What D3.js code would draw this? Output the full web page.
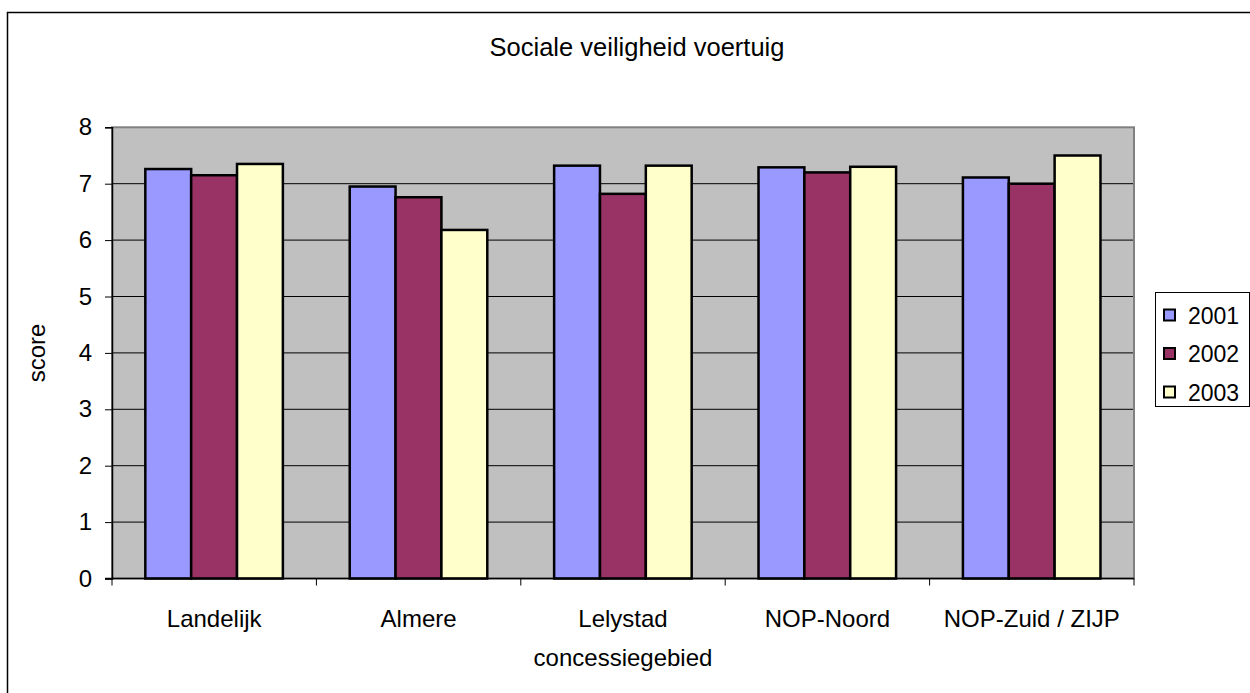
<!DOCTYPE html>
<html><head><meta charset="utf-8">
<script src="https://cdn.jsdelivr.net/npm/d3@7/dist/d3.min.js"></script>
<style>body{margin:0;background:#fff;} svg{display:block;font-family:"Liberation Sans",Arial,sans-serif;}</style>
</head><body>
<script>
const categories = ["Landelijk","Almere","Lelystad","NOP-Noord","NOP-Zuid / ZIJP"];
const series = ["2001","2002","2003"];
const values2001 = [7.26, 6.95, 7.32, 7.29, 7.11];
const values2002 = [7.15, 6.76, 6.82, 7.20, 7.00];
const values2003 = [7.35, 6.18, 7.32, 7.30, 7.50];
const yTicks = [0,1,2,3,4,5,6,7,8];
const colors = ["#9999FF","#993366","#FFFFCC"];
const seriesValues = [values2001, values2002, values2003];

const W = 1250, H = 693;
const FS = 24;
const svg = d3.select("body").append("svg").attr("width", W).attr("height", H);

// outer chart border
svg.append("rect").attr("x",7.5).attr("y",12.5).attr("width",1260).attr("height",700)
  .attr("fill","#fff").attr("stroke","#000").attr("stroke-width",1.5);

const L = 112, R = 1134, T = 127.3, B = 578.5;
const x0 = d3.scaleBand().domain(categories).range([L,R]).padding(0);
const bw = x0.bandwidth();
const x1 = d3.scaleBand().domain(series).range([bw*0.163, bw*0.836]).padding(0);
const y = d3.scaleLinear().domain([0,8]).range([B,T]);

// plot background
svg.append("rect").attr("x",L).attr("y",T).attr("width",R-L).attr("height",B-T).attr("fill","#C0C0C0");

// gridlines
svg.append("g").selectAll("line").data(yTicks.filter(d=>d>0 && d<8)).join("line")
  .attr("x1",L).attr("x2",R).attr("y1",d=>y(d)).attr("y2",d=>y(d))
  .attr("stroke","#000").attr("stroke-width",1);

// plot border
svg.append("rect").attr("x",L).attr("y",T).attr("width",R-L).attr("height",B-T)
  .attr("fill","none").attr("stroke","#808080").attr("stroke-width",2);

// bars
const g = svg.append("g");
categories.forEach((c,i)=>{
  series.forEach((s,j)=>{
    const v = seriesValues[j][i];
    g.append("rect").attr("x", x0(c)+x1(s)).attr("y", y(v))
      .attr("width", x1.bandwidth()).attr("height", y(0)-y(v))
      .attr("fill", colors[j]).attr("stroke","#000").attr("stroke-width",2.5);
  });
});

// y axis
const yAxis = d3.axisLeft(y).tickValues(yTicks).tickSize(7).tickPadding(13).tickFormat(d3.format("d"));
const ya = svg.append("g").attr("transform",`translate(${L},0)`).call(yAxis);
ya.select(".domain").attr("stroke","#000").attr("stroke-width",1.5);
ya.selectAll(".tick line").attr("stroke","#000");
ya.selectAll("text").attr("font-size",FS).attr("fill","#000").attr("font-family","Liberation Sans, Arial, sans-serif");

// x axis
const xa = svg.append("g").attr("transform",`translate(0,${B})`);
xa.append("line").attr("x1",L-7).attr("x2",R).attr("y1",0).attr("y2",0).attr("stroke","#000").attr("stroke-width",1.5);
const bounds = categories.map(c=>x0(c)).concat([R]);
xa.selectAll("line.t").data(bounds).join("line").attr("class","t")
  .attr("x1",d=>d).attr("x2",d=>d).attr("y1",0).attr("y2",7).attr("stroke","#000");
xa.selectAll("text").data(categories).join("text")
  .attr("x",d=>x0(d)+bw/2).attr("y",48).attr("text-anchor","middle")
  .attr("font-size",FS).attr("fill","#000").text(d=>d);

// titles
svg.append("text").attr("x",637).attr("y",56).attr("text-anchor","middle").attr("font-size",25.5).text("Sociale veiligheid voertuig");
svg.append("text").attr("x",623).attr("y",666).attr("text-anchor","middle").attr("font-size",FS).text("concessiegebied");
svg.append("text").attr("transform","translate(45,353) rotate(-90)").attr("text-anchor","middle").attr("font-size",FS).text("score");

// legend
const lg = svg.append("g");
lg.append("rect").attr("x",1155.5).attr("y",292.5).attr("width",94).attr("height",114)
  .attr("fill","#fff").attr("stroke","#000").attr("stroke-width",1);
series.forEach((s,j)=>{
  const cy = 315 + j*38.5;
  lg.append("rect").attr("x",1164).attr("y",cy-5.5).attr("width",11).attr("height",11)
    .attr("fill",colors[j]).attr("stroke","#000").attr("stroke-width",2);
  lg.append("text").attr("x",1188).attr("y",cy+8.5).attr("font-size",FS-1).text(s);
});
</script>
</body></html>
